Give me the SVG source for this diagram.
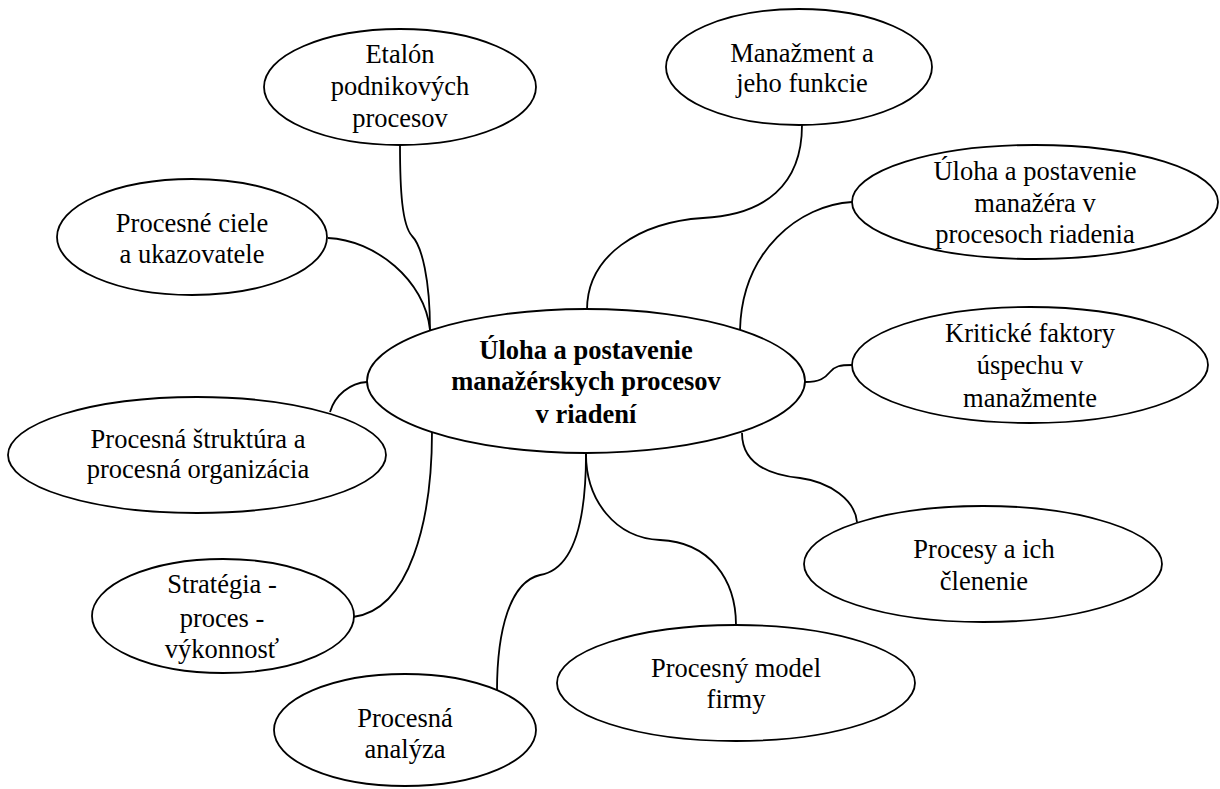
<svg xmlns="http://www.w3.org/2000/svg" width="1220" height="789" viewBox="0 0 1220 789">
<style>
.bg{fill:#ffffff}
.node ellipse{fill:#ffffff;stroke:#000000;stroke-width:1.8}
.node text{font-family:"Liberation Serif","Times New Roman",serif;font-size:26.5px;fill:#000000;text-anchor:middle}
.node.main text{font-weight:bold}
#connectors path{fill:none;stroke:#000000;stroke-width:1.8}
</style>
<rect class="bg" x="0" y="0" width="1220" height="789"/>
<g id="connectors">
<path d="M400,145 C400,190 402,225 412,236 C422,246 430,280 430,330"/>
<path d="M328,238 C375,240 425,280 430,330"/>
<path d="M802,125 C802,185 765,215 703,218 C640,222 587,255 587,310"/>
<path d="M852,202 C800,205 742,250 740,330"/>
<path d="M805,382 C820,382 825,378 830,372 C835,366 840,365 852,365"/>
<path d="M742,433 C742,465 770,475 800,478 C830,482 855,500 857,522"/>
<path d="M586,454 C586,500 615,538 660,540 C710,542 736,580 736,625"/>
<path d="M586,454 C586,530 570,570 540,575 C510,582 497,630 497,691"/>
<path d="M432,432 C432,520 410,610 353,617"/>
<path d="M330,412 C335,395 350,383 367,382"/>
</g>
<g id="n-center" class="node main">
<ellipse cx="586" cy="381" rx="219" ry="72"/>
<text x="586" y="359">Úloha a postavenie</text>
<text x="586" y="390">manažérskych procesov</text>
<text x="586" y="423">v riadení</text>
</g>
<g id="n-etalon" class="node">
<ellipse cx="400" cy="87" rx="136" ry="58"/>
<text x="400" y="63">Etalón</text>
<text x="400" y="95">podnikových</text>
<text x="400" y="127">procesov</text>
</g>
<g id="n-ciele" class="node">
<ellipse cx="192" cy="237" rx="135" ry="58"/>
<text x="192" y="232">Procesné ciele</text>
<text x="192" y="263">a ukazovatele</text>
</g>
<g id="n-manazment" class="node">
<ellipse cx="799" cy="67" rx="133" ry="58"/>
<text x="802" y="62">Manažment a</text>
<text x="802" y="92">jeho funkcie</text>
</g>
<g id="n-manazer" class="node">
<ellipse cx="1035" cy="202" rx="183" ry="57"/>
<text x="1035" y="180">Úloha a postavenie</text>
<text x="1035" y="212">manažéra v</text>
<text x="1035" y="243">procesoch riadenia</text>
</g>
<g id="n-kriticke" class="node">
<ellipse cx="1030" cy="365" rx="178" ry="58"/>
<text x="1030" y="342">Kritické faktory</text>
<text x="1030" y="374">úspechu v</text>
<text x="1030" y="407">manažmente</text>
</g>
<g id="n-procesy" class="node">
<ellipse cx="983" cy="564" rx="179" ry="58"/>
<text x="984" y="558">Procesy a ich</text>
<text x="984" y="590">členenie</text>
</g>
<g id="n-model" class="node">
<ellipse cx="736" cy="683" rx="179" ry="58"/>
<text x="736" y="677">Procesný model</text>
<text x="736" y="708">firmy</text>
</g>
<g id="n-analyza" class="node">
<ellipse cx="405" cy="730" rx="131" ry="56"/>
<text x="405" y="727">Procesná</text>
<text x="405" y="758">analýza</text>
</g>
<g id="n-strategia" class="node">
<ellipse cx="223" cy="616" rx="131" ry="57"/>
<text x="222" y="593">Stratégia -</text>
<text x="222" y="627">proces -</text>
<text x="222" y="658">výkonnosť</text>
</g>
<g id="n-struktura" class="node">
<ellipse cx="197" cy="455" rx="189" ry="58"/>
<text x="198" y="448">Procesná štruktúra a</text>
<text x="198" y="478">procesná organizácia</text>
</g>
</svg>
